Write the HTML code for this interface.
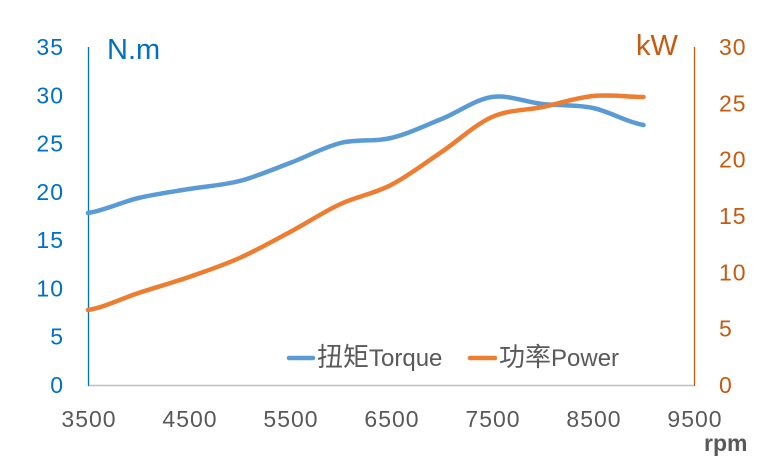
<!DOCTYPE html>
<html>
<head>
<meta charset="utf-8">
<style>
  html, body { margin: 0; padding: 0; background: #ffffff; }
  svg { display: block; }
  text { font-family: "Liberation Sans", "Noto Sans CJK SC", sans-serif; }
</style>
</head>
<body>
<svg width="760" height="464" viewBox="0 0 760 464" xmlns="http://www.w3.org/2000/svg">
  <rect x="0" y="0" width="760" height="464" fill="#ffffff"/>

  <!-- axes -->
  <line x1="88" y1="385.5" x2="695" y2="385.5" stroke="#BFBFBF" stroke-width="1.5"/>
  <line x1="88.5" y1="47" x2="88.5" y2="386" stroke="#0070C0" stroke-width="1.3"/>
  <line x1="694.5" y1="47" x2="694.5" y2="386" stroke="#C55A11" stroke-width="1.3"/>

  <!-- left tick labels -->
  <g fill="#0070C0" font-size="23" text-anchor="end" letter-spacing="1">
    <text x="64" y="55">35</text>
    <text x="64" y="103.3">30</text>
    <text x="64" y="151.6">25</text>
    <text x="64" y="199.9">20</text>
    <text x="64" y="248.1">15</text>
    <text x="64" y="296.4">10</text>
    <text x="64" y="344.7">5</text>
    <text x="64" y="393">0</text>
  </g>

  <!-- right tick labels -->
  <g fill="#C55A11" font-size="23" text-anchor="start" letter-spacing="1">
    <text x="719" y="55">30</text>
    <text x="719" y="111.3">25</text>
    <text x="719" y="167.7">20</text>
    <text x="719" y="224">15</text>
    <text x="719" y="280.3">10</text>
    <text x="719" y="336.7">5</text>
    <text x="719" y="393">0</text>
  </g>

  <!-- x tick labels -->
  <g fill="#595959" font-size="23" text-anchor="middle" letter-spacing="1">
    <text x="89" y="427">3500</text>
    <text x="190" y="427">4500</text>
    <text x="291" y="427">5500</text>
    <text x="392" y="427">6500</text>
    <text x="493" y="427">7500</text>
    <text x="594" y="427">8500</text>
    <text x="695" y="427">9500</text>
  </g>

  <!-- axis titles -->
  <text x="107" y="59" fill="#0070C0" font-size="29">N.m</text>
  <text x="636" y="55" fill="#C55A11" font-size="29">kW</text>
  <text x="704" y="451" fill="#595959" font-size="23" font-weight="bold">rpm</text>

  <!-- series -->
  <path d="M88,213
    C104.8,210.5 121.7,202 138.5,198
    C155.3,194 172.2,191.8 189,189
    C205.8,186.2 222.7,185.3 239.5,181
    C256.3,176.7 273.2,169.3 290,163
    C306.8,156.7 323.7,147.2 340.5,143
    C357.3,138.8 374.2,142 391,138
    C407.8,134 424.7,125.8 441.5,119
    C458.3,112.2 475.2,99.5 492,97
    C508.8,94.5 525.7,102.2 542.5,104
    C559.3,105.8 576.2,104.5 593,108
    C609.8,111.5 626.7,122.2 643.5,125"
    fill="none" stroke="#5B9BD5" stroke-width="4.5" stroke-linecap="round" stroke-linejoin="round"/>

  <path d="M88,310
    C104.8,307.2 121.7,298.5 138.5,293
    C155.3,287.5 172.2,282.8 189,277
    C205.8,271.2 222.7,265.5 239.5,258
    C256.3,250.5 273.2,241 290,232
    C306.8,223 323.7,211.8 340.5,204
    C357.3,196.2 374.2,193.7 391,185
    C407.8,176.3 424.7,163.3 441.5,152
    C458.3,140.7 475.2,124.5 492,117
    C508.8,109.5 525.7,110.5 542.5,107
    C559.3,103.5 576.2,97.7 593,96
    C609.8,94.3 626.7,96.8 643.5,97"
    fill="none" stroke="#ED7D31" stroke-width="4.5" stroke-linecap="round" stroke-linejoin="round"/>

  <!-- legend -->
  <line x1="289" y1="358" x2="313" y2="358" stroke="#5B9BD5" stroke-width="4.5" stroke-linecap="round"/>
  <text x="317" y="366" fill="#595959" font-size="24"><tspan font-size="26" font-family="'Noto Sans CJK SC', sans-serif">扭矩</tspan>Torque</text>
  <line x1="470" y1="358" x2="495" y2="358" stroke="#ED7D31" stroke-width="4.5" stroke-linecap="round"/>
  <text x="499" y="366" fill="#595959" font-size="24"><tspan font-size="26" font-family="'Noto Sans CJK SC', sans-serif">功率</tspan>Power</text>
</svg>
</body>
</html>
